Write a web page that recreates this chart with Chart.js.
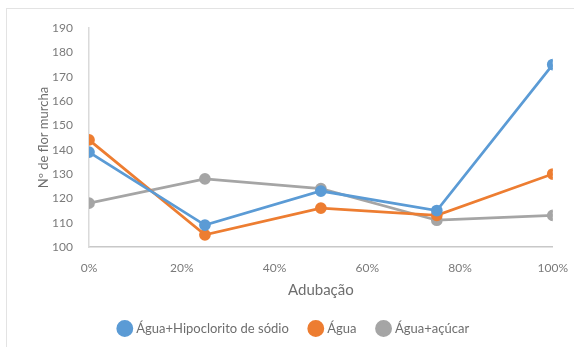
<!DOCTYPE html>
<html>
<head>
<meta charset="utf-8">
<script src="https://cdn.jsdelivr.net/npm/chart.js@4"></script>
<style>
  html, body { margin: 0; padding: 0; background: #fff; }
  #frame {
    position: absolute; left: 6px; top: 8px; width: 580px; height: 350px;
    border-top: 1px solid #e3e3e3; border-left: 1px solid #e3e3e3;
  }
  #chart { position: absolute; left: 0; top: 0; }
</style>
</head>
<body>
<div id="frame"></div>
<canvas id="chart" width="574" height="347"></canvas>
<script>
const adubacao = [0, 0.25, 0.5, 0.75, 1];
const hipoclorito = [139, 109, 123, 115, 175];
const agua = [144, 105, 116, 113, 130];
const acucar = [118, 128, 124, 111, 113];
const yTicks = [100, 110, 120, 130, 140, 150, 160, 170, 180, 190];

function toPoints(values) {
  return adubacao.map((x, i) => ({ x: x, y: values[i] }));
}

function makeSeries(label, values, color) {
  return {
    label: label,
    data: toPoints(values),
    showLine: true,
    borderColor: color,
    backgroundColor: color,
    borderWidth: 2.75,
    pointRadius: 4.5,
    pointHoverRadius: 4.5,
    pointStyle: 'circle',
    tension: 0
  };
}

const grey = '#7a7a7a';
const font = { family: 'Lato', size: 12 };

new Chart(document.getElementById('chart').getContext('2d'), {
  type: 'scatter',
  data: {
    datasets: [
      makeSeries('Água+Hipoclorito de sódio', hipoclorito, '#5B9BD5'),
      makeSeries('Água', agua, '#ED7D31'),
      makeSeries('Água+açúcar', acucar, '#A5A5A5')
    ]
  },
  options: {
    responsive: false,
    animation: false,
    layout: { padding: { left: 36, right: 21, top: 28, bottom: 2 } },
    plugins: {
      tooltip: { enabled: false },
      legend: {
        position: 'bottom',
        labels: {
          usePointStyle: true,
          pointStyle: 'circle',
          boxWidth: 10,
          boxHeight: 10,
          padding: 22,
          color: '#6e6e6e',
          font: { family: 'Lato', size: 13 }
        }
      }
    },
    scales: {
      x: {
        type: 'linear',
        min: 0,
        max: 1,
        grid: { display: false },
        border: { display: true, color: '#c8c8c8', width: 1.5 },
        ticks: {
          stepSize: 0.2,
          padding: 6,
          color: grey,
          font: font,
          callback: v => Math.round(v * 100) + '%'
        },
        title: {
          display: true,
          text: 'Adubação',
          color: '#6e6e6e',
          font: { family: 'Lato', size: 15 },
          padding: { top: 6, bottom: 1 }
        },
        afterFit: s => { s.height = 53; }
      },
      y: {
        min: 100,
        max: 190,
        grid: { display: false },
        border: { display: true, color: '#dadada', width: 1.5 },
        afterBuildTicks: s => { s.ticks = yTicks.map(v => ({ value: v })); },
        ticks: { padding: 8, color: grey, font: font },
        title: {
          display: true,
          text: 'Nº de flor murcha',
          color: '#6e6e6e',
          font: { family: 'Lato', size: 13 },
          padding: 0
        },
        afterFit: s => { s.width = 53; }
      }
    }
  }
});
</script>
</body>
</html>
